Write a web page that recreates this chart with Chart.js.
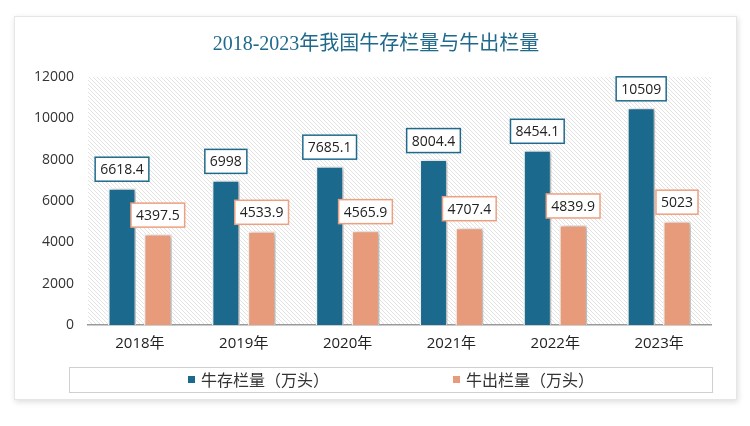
<!DOCTYPE html>
<html>
<head>
<meta charset="utf-8">
<script src="https://cdn.jsdelivr.net/npm/chart.js@4"></script>
<style>
  html, body { margin: 0; padding: 0; background: #fff; }
  #wrap { position: relative; width: 750px; height: 426px; background: #fff; }
  #card {
    position: absolute; left: 14px; top: 16px; width: 721px; height: 382px;
    background: #fff; border: 1px solid #e6e6e6;
    box-shadow: 1px 2px 6px rgba(0,0,0,0.14);
  }
  #c { position: absolute; left: 0; top: 0; }
</style>
</head>
<body>
<div id="wrap">
  <div id="card"></div>
  <canvas id="c" width="750" height="426"></canvas>
</div>
<script>
const years = ['2018年', '2019年', '2020年', '2021年', '2022年', '2023年'];
const stock = [6618.4, 6998, 7685.1, 8004.4, 8454.1, 10509];
const slaughter = [4397.5, 4533.9, 4565.9, 4707.4, 4839.9, 5023];
const titleText = '2018-2023年我国牛存栏量与牛出栏量';

const blue = '#1b6a8e';
const orange = '#e89b7b';
const serif = '"Liberation Serif", "Noto Sans CJK SC", serif';
const sans = '"Open Sans", "Noto Sans CJK SC", sans-serif';

function hatch() {
  const p = document.createElement('canvas');
  p.width = 4; p.height = 4;
  const g = p.getContext('2d');
  g.fillStyle = '#fff';
  g.fillRect(0, 0, 4, 4);
  g.strokeStyle = '#e2e2e2';
  g.lineWidth = 1;
  g.beginPath();
  g.moveTo(-1, -1); g.lineTo(5, 5);
  g.moveTo(-1, 3); g.lineTo(1, 5);
  g.moveTo(3, -1); g.lineTo(5, 1);
  g.stroke();
  return p;
}

const decor = {
  id: 'decor',
  beforeDraw(chart) {
    const { ctx, chartArea: a } = chart;
    ctx.save();
    ctx.fillStyle = ctx.createPattern(hatch(), 'repeat');
    ctx.fillRect(a.left, a.top, a.right - a.left, a.bottom - a.top);
    ctx.fillStyle = '#1f6a8c';
    ctx.font = '20px ' + serif;
    ctx.textAlign = 'center';
    ctx.textBaseline = 'middle';
    ctx.fillText(titleText, 376, 45);
    ctx.restore();
  },
  beforeDatasetsDraw(chart) {
    const ctx = chart.ctx;
    ctx.save();
    ctx.shadowColor = 'rgba(0,0,0,0.25)';
    ctx.shadowOffsetX = 3;
    ctx.shadowOffsetY = 1;
    ctx.shadowBlur = 4;
  },
  afterDatasetsDraw(chart) {
    const ctx = chart.ctx;
    ctx.restore();
    ctx.save();
    ctx.font = '14px "Open Sans", sans-serif';
    ctx.textAlign = 'center';
    ctx.textBaseline = 'middle';
    chart.data.datasets.forEach((ds, i) => {
      chart.getDatasetMeta(i).data.forEach((bar, j) => {
        const txt = String(ds.data[j]);
        const w = ctx.measureText(txt).width + 10;
        const h = 24;
        const cx = bar.x;
        const cy = bar.y - 19;
        ctx.fillStyle = '#fff';
        ctx.fillRect(cx - w / 2, cy - h / 2, w, h);
        ctx.strokeStyle = ds.labelBorder;
        ctx.lineWidth = 1.5;
        ctx.strokeRect(cx - w / 2, cy - h / 2, w, h);
        ctx.fillStyle = '#222';
        ctx.fillText(txt, cx, cy + 1);
      });
    });
    ctx.restore();
  },
  afterDraw(chart) {
    const { ctx, chartArea: a } = chart;
    ctx.save();
    ctx.strokeStyle = '#d0d0d0';
    ctx.lineWidth = 1;
    const top = 367, bottom = 392;
    ctx.strokeRect(a.left - 18.5, top + 0.5, a.right - a.left + 20, bottom - top);
    ctx.font = '16px "Noto Sans CJK SC", sans-serif';
    ctx.textBaseline = 'middle';
    const xs = [188, 453];
    chart.data.datasets.forEach((ds, i) => {
      ctx.fillStyle = ds.backgroundColor;
      ctx.fillRect(xs[i], 376, 7, 7);
      ctx.fillStyle = '#333';
      ctx.fillText(ds.label, xs[i] + 13, 380);
    });
    ctx.restore();
  }
};

new Chart(document.getElementById('c'), {
  type: 'bar',
  data: {
    labels: years,
    datasets: [
      {
        label: '牛存栏量（万头）',
        data: stock,
        backgroundColor: blue,
        borderColor: '#f2f2f2',
        borderWidth: 1.5,
        labelBorder: '#1f6a8c'
      },
      {
        label: '牛出栏量（万头）',
        data: slaughter,
        backgroundColor: orange,
        borderColor: '#f2f2f2',
        borderWidth: 1.5,
        labelBorder: '#eda07f'
      }
    ]
  },
  options: {
    responsive: false,
    animation: false,
    events: [],
    layout: { padding: { left: 30, right: 39, top: 77, bottom: 71 } },
    datasets: {
      bar: { categoryPercentage: 0.69, barPercentage: 0.78 }
    },
    plugins: {
      legend: { display: false },
      tooltip: { enabled: false }
    },
    scales: {
      x: {
        grid: { display: false, drawTicks: false },
        border: { color: '#9a9a9a', width: 1.5 },
        ticks: { color: '#222', font: { family: sans, size: 15 }, padding: 10 },
        afterFit: s => { s.height = 30; }
      },
      y: {
        min: 0,
        max: 12000,
        grid: { display: false, drawTicks: false },
        border: { display: false },
        ticks: {
          stepSize: 2000,
          color: '#333',
          font: { family: sans, size: 14 },
          padding: 14,
          callback: v => String(v)
        },
        afterFit: s => { s.width = 58; }
      }
    }
  },
  plugins: [decor]
});
</script>
</body>
</html>
